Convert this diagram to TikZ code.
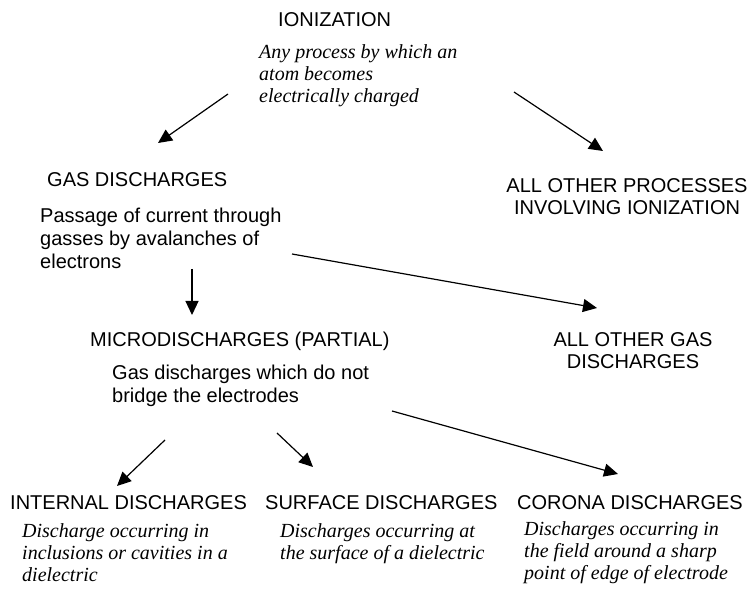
\documentclass[tikz,border=0pt]{standalone}
\usepackage{fontspec}
\setmainfont{Liberation Serif}
\setsansfont{Liberation Sans}
\usetikzlibrary{arrows.meta}
\begin{document}
\begin{tikzpicture}[x=1pt,y=-1pt,
  head/.style={font=\sffamily\fontsize{20}{23}\selectfont, anchor=base west, inner sep=0pt},
  headc/.style={font=\sffamily\fontsize{20}{22}\selectfont, anchor=base, inner sep=0pt},
  sdesc/.style={font=\sffamily\fontsize{20}{23}\selectfont, anchor=base west, inner sep=0pt},
  idesc/.style={font=\rmfamily\itshape\fontsize{20}{22}\selectfont, anchor=base west, inner sep=0pt},
  arr/.style={-{Triangle[length=14pt,width=13pt]}, line width=1.2pt, black}]
\useasboundingbox (0,0) rectangle (750,593);
\fill[white] (0,0) rectangle (750,593);

\node[head] (ion) at (278,27) {IONIZATION};
\node[idesc] (ionD) at (259,59) {\begin{tabular}[t]{@{}l@{}}Any process by which an\\atom becomes\\electrically charged\end{tabular}};

\node[head] (gas) at (47,187) {GAS DISCHARGES};
\node[sdesc] (gasD) at (40,223) {\begin{tabular}[t]{@{}l@{}}Passage of current through\\gasses by avalanches of\\electrons\end{tabular}};

\node[headc] (allproc) at (627,193) {\begin{tabular}[t]{@{}c@{}}ALL OTHER PROCESSES\\INVOLVING IONIZATION\end{tabular}};
\node[headc] (allgas) at (633,347) {\begin{tabular}[t]{@{}c@{}}ALL OTHER GAS\\DISCHARGES\end{tabular}};

\node[head] (micro) at (90,347) {MICRODISCHARGES (PARTIAL)};
\node[sdesc] (microD) at (112,380) {\begin{tabular}[t]{@{}l@{}}Gas discharges which do not\\bridge the electrodes\end{tabular}};

\node[head] (int) at (10,510) {INTERNAL DISCHARGES};
\node[idesc] (intD) at (22,537) {\begin{tabular}[t]{@{}l@{}}Discharge occurring in\\inclusions or cavities in a\\dielectric\end{tabular}};

\node[head] (surf) at (265,510) {SURFACE DISCHARGES};
\node[idesc] (surfD) at (280,537) {\begin{tabular}[t]{@{}l@{}}Discharges occurring at\\the surface of a dielectric\end{tabular}};

\node[head] (cor) at (517,510) {CORONA DISCHARGES};
\node[idesc] (corD) at (524,535) {\begin{tabular}[t]{@{}l@{}}Discharges occurring in\\the field around a sharp\\point of edge of electrode\end{tabular}};

\coordinate (a1s) at (228,94);  \coordinate (a1e) at (158,143);
\coordinate (a2s) at (514,92);  \coordinate (a2e) at (603,151);
\coordinate (a3s) at (192,269); \coordinate (a3e) at (192,315);
\coordinate (a4s) at (292,254); \coordinate (a4e) at (597,308);
\coordinate (a5s) at (165,440); \coordinate (a5e) at (117,486);
\coordinate (a6s) at (277,433); \coordinate (a6e) at (313,467);
\coordinate (a7s) at (392,411); \coordinate (a7e) at (618,474);

\draw[arr] (a1s) -- (a1e);
\draw[arr] (a2s) -- (a2e);
\draw[arr] (a3s) -- (a3e);
\draw[arr] (a4s) -- (a4e);
\draw[arr] (a5s) -- (a5e);
\draw[arr] (a6s) -- (a6e);
\draw[arr] (a7s) -- (a7e);
\end{tikzpicture}
\end{document}
